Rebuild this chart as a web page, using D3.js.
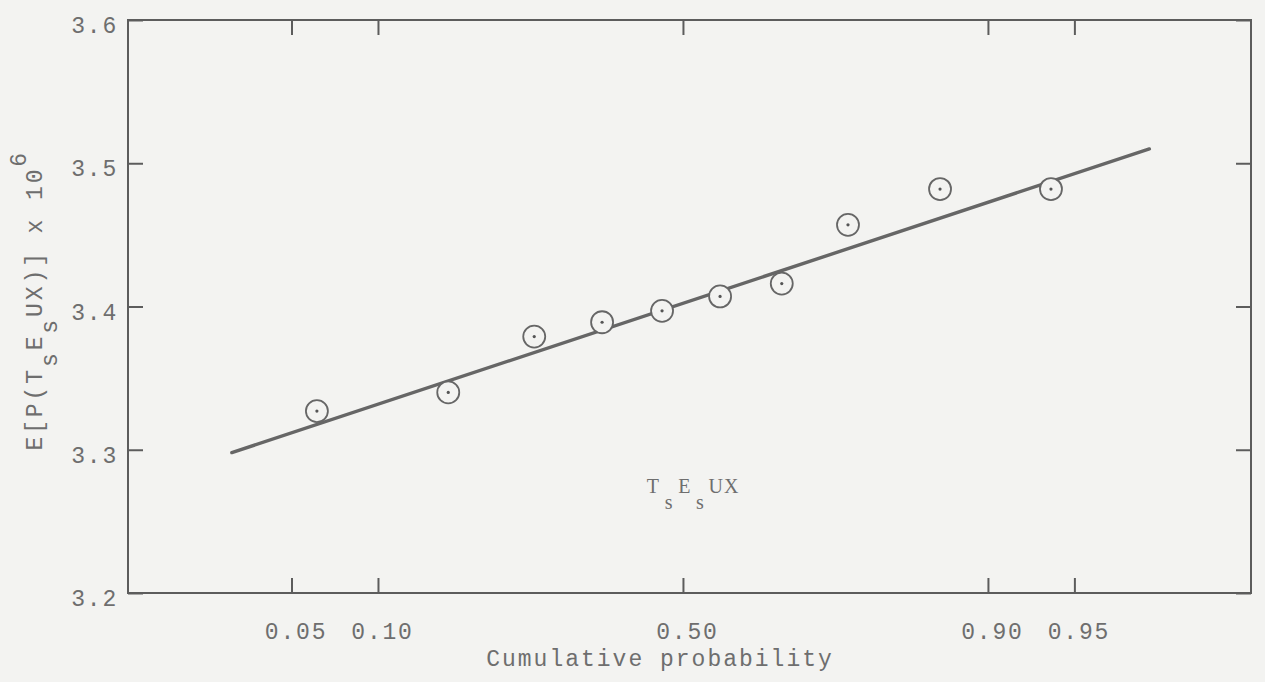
<!DOCTYPE html>
<html lang="en">
<head>
    <meta charset="UTF-8">
    <title>Cumulative probability plot</title>
    <script src="https://d3js.org/d3.v7.min.js"></script>
    <style>
        body { margin: 0; background: #f3f3f1; }
        svg { display: block; }
        .txt { font-family: "Liberation Mono", "DejaVu Sans Mono", monospace; fill: #6e6e6e; }
        .serif { font-family: "Liberation Serif", "DejaVu Serif", serif; }
    </style>
</head>
<body>
    <div id="chart"></div>

    <script>
        // values
        const probTicks = [0.05, 0.10, 0.50, 0.90, 0.95];
        const probTickLabels = ["0.05", "0.10", "0.50", "0.90", "0.95"];
        const valueTicks = [3.2, 3.3, 3.4, 3.5, 3.6];
        const valueTickLabels = ["3.2", "3.3", "3.4", "3.5", "3.6"];
        const pointProb = [0.062, 0.162, 0.266, 0.367, 0.465, 0.562, 0.661, 0.756, 0.860, 0.939];
        const pointValue = [3.327, 3.340, 3.379, 3.389, 3.397, 3.407, 3.416, 3.457, 3.482, 3.482];
        const fitProb = [0.029, 0.975];
        const fitValue = [3.298, 3.510];

        // inverse normal cdf (Acklam), used for the probability axis
        function probit(p) {
            const a = [-3.969683028665376e+01, 2.209460984245205e+02, -2.759285104469687e+02, 1.383577518672690e+02, -3.066479806614716e+01, 2.506628277459239e+00];
            const b = [-5.447609879822406e+01, 1.615858368580409e+02, -1.556989798598866e+02, 6.680131188771972e+01, -1.328068155288572e+01];
            const c = [-7.784894002430293e-03, -3.223964580411365e-01, -2.400758277161838e+00, -2.549732539343734e+00, 4.374664141464968e+00, 2.938163982698783e+00];
            const d = [7.784695709041462e-03, 3.224671290700398e-01, 2.445134137142996e+00, 3.754408661907416e+00];
            const plow = 0.02425, phigh = 1 - plow;
            let q, r;
            if (p < plow) {
                q = Math.sqrt(-2 * Math.log(p));
                return (((((c[0]*q+c[1])*q+c[2])*q+c[3])*q+c[4])*q+c[5]) / ((((d[0]*q+d[1])*q+d[2])*q+d[3])*q+1);
            }
            if (p > phigh) {
                q = Math.sqrt(-2 * Math.log(1 - p));
                return -(((((c[0]*q+c[1])*q+c[2])*q+c[3])*q+c[4])*q+c[5]) / ((((d[0]*q+d[1])*q+d[2])*q+d[3])*q+1);
            }
            q = p - 0.5; r = q * q;
            return (((((a[0]*r+a[1])*r+a[2])*r+a[3])*r+a[4])*r+a[5])*q / (((((b[0]*r+b[1])*r+b[2])*r+b[3])*r+b[4])*r+1);
        }

        const W = 1265, H = 682;
        const margin = {top: 20, right: 14, bottom: 89, left: 128},
              width = W - margin.left - margin.right,
              height = H - margin.top - margin.bottom;
        const bg = "#f3f3f1", ink = "#5c5c5c";

        const x = d3.scaleLinear().domain([-2.332, 2.387]).range([0, width]);
        const y = d3.scaleLinear().domain([3.2, 3.6]).range([height, 0]);

        const svg = d3.select("#chart")
                      .append("svg")
                      .attr("width", W)
                      .attr("height", H);
        svg.append("rect").attr("width", W).attr("height", H).attr("fill", bg);

        const g = svg.append("g")
                     .attr("transform", `translate(${margin.left}, ${margin.top})`);

        // frame
        g.append("rect")
         .attr("width", width)
         .attr("height", height)
         .attr("fill", "none")
         .attr("stroke", ink)
         .attr("stroke-width", 2);

        const zTicks = probTicks.map(probit);
        const fontSize = 23;

        // bottom axis with labels
        const bottom = g.append("g")
           .attr("transform", `translate(0, ${height})`)
           .call(d3.axisBottom(x).tickValues(zTicks)
                   .tickFormat((d, i) => probTickLabels[i])
                   .tickSizeInner(-15).tickSizeOuter(0).tickPadding(30));
        g.append("g").call(d3.axisTop(x).tickValues(zTicks).tickFormat("")
                   .tickSizeInner(-15).tickSizeOuter(0));

        const left = g.append("g")
           .call(d3.axisLeft(y).tickValues(valueTicks)
                   .tickFormat((d, i) => valueTickLabels[i])
                   .tickSizeInner(-15).tickSizeOuter(0).tickPadding(10));
        g.append("g").attr("transform", `translate(${width}, 0)`)
           .call(d3.axisRight(y).tickValues(valueTicks).tickFormat("")
                   .tickSizeInner(-15).tickSizeOuter(0));

        g.selectAll(".domain").remove();
        g.selectAll(".tick line").attr("stroke", ink).attr("stroke-width", 2);
        g.selectAll(".tick text")
         .attr("class", "txt")
         .attr("font-size", fontSize)
         .attr("letter-spacing", "1.8px")
         .attr("fill", "#6e6e6e");
        bottom.selectAll(".tick text").attr("dx", 4);
        left.selectAll(".tick text").attr("dy", "0.55em");

        // fitted line
        const line = d3.line()
                       .x(d => x(probit(d[0])))
                       .y(d => y(d[1]));
        g.append("path")
         .datum(fitProb.map((p, i) => [p, fitValue[i]]))
         .attr("d", line)
         .attr("fill", "none")
         .attr("stroke", "#666")
         .attr("stroke-width", 3.4)
         .attr("stroke-linecap", "round");

        // data points
        const pts = g.selectAll(".pt")
                     .data(pointProb.map((p, i) => [p, pointValue[i]]))
                     .enter()
                     .append("g")
                     .attr("class", "pt")
                     .attr("transform", d => `translate(${x(probit(d[0]))}, ${y(d[1])})`);
        pts.append("circle")
           .attr("r", 11)
           .attr("fill", bg)
           .attr("stroke", "#666")
           .attr("stroke-width", 1.8);
        pts.append("circle")
           .attr("r", 1.6)
           .attr("fill", "#555");

        // typewriter-style text, one character per cell
        function typed(sel, str, x0, y0, cw, size, cls) {
            str.split("").forEach((ch, i) => {
                if (ch === " ") return;
                sel.append("text")
                   .attr("class", "txt" + (cls ? " " + cls : ""))
                   .attr("x", x0 + i * cw + cw / 2)
                   .attr("y", y0)
                   .attr("text-anchor", "middle")
                   .attr("font-size", size)
                   .text(ch);
            });
        }

        // x-axis title
        const xt = svg.append("g");
        typed(xt, "Cumulative probability", 659 - 11 * 15.8, 666, 15.8, fontSize);

        // annotation inside the plot: T_s E_s UX
        const ann = svg.append("g");
        typed(ann, "T E UX", 645, 493, 15.7, 20, "serif");
        typed(ann, " s s", 645, 509, 15.7, 20, "serif");

        // y-axis title: E[P(T_s E_s UX)] x 10^6
        const yt = svg.append("g").attr("transform", "translate(0, 452) rotate(-90)");
        typed(yt, "E[P(T E UX)] x 10", 0, 42, 16.7, fontSize);
        typed(yt, "     s s", 0, 57, 16.7, fontSize);
        typed(yt, "                 6", 0, 26, 16.7, fontSize);
    </script>
</body>
</html>
